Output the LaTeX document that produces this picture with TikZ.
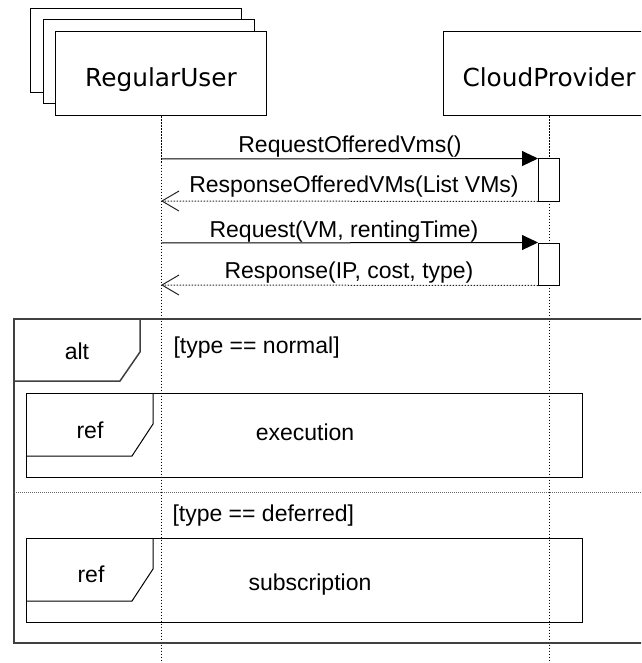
\documentclass[tikz,border=0pt]{standalone}
\usepackage{fontspec}
\setmainfont{Liberation Sans}
\newfontfamily\headfont{DejaVu Sans}
\usetikzlibrary{arrows.meta}

\begin{document}
\begin{tikzpicture}[x=1pt,y=-1pt,line width=1pt,
  lifebox/.style={draw,fill=white,minimum width=211pt,minimum height=84pt,inner sep=0pt},
  headtext/.style={font=\headfont\fontsize{24.8}{28}\selectfont,anchor=base,inner sep=0pt},
  msg/.style={font=\fontsize{23}{27}\selectfont,anchor=base,inner sep=0pt},
  lifeline/.style={dash pattern=on 1.5pt off 1.5pt},
  act/.style={draw,fill=white,minimum width=21pt,minimum height=42pt,inner sep=0pt},
  call/.style={-{Triangle[length=16pt,width=15pt]}},
  reply/.style={black!85,dash pattern=on 1.5pt off 1.5pt,-{Straight Barb[length=17pt,width=20pt]}},
  frame/.style={draw=black!75,line width=1.5pt},
  reffr/.style={draw,minimum width=556pt,minimum height=84pt,inner sep=0pt}]
\clip (0,0) rectangle (641,663);
            % Lifelines
\node[lifebox] (user3) at (136,51) {};
\node[lifebox] (user2) at (148.5,62) {};
\node[lifebox] (userbox) at (161,74) {};
\node[headtext] (user) at (161,87) {RegularUser};
\node[lifebox] (cloudbox) at (549,74) {};
\node[headtext] (cloud) at (549,87) {CloudProvider};
\coordinate (userend) at (161,663);
\coordinate (cloudend) at (549,663);
\draw[lifeline] (userbox.south) -- (userend);
\draw[lifeline] (cloudbox.south) -- (cloudend);
%Activations
\node[act] (act1) at (549,180) {};
\node[act] (act2) at (549,264) {};
%Messages
\coordinate (u1) at (161,159);
\coordinate (u2) at (161,201);
\coordinate (u3) at (161,243);
\coordinate (u4) at (161,285);
\draw[call] (u1) -- (act1.north west);
\draw[reply] (act1.south west) -- (u2);
\draw[call] (u3) -- (act2.north west);
\draw[reply] (act2.south west) -- (u4);
\node[msg] (m1) at (350,153) {RequestOfferedVms()};
\node[msg] (m2) at (354,193) {ResponseOfferedVMs(List VMs)};
\node[msg] (m3) at (344,237) {Request(VM, rentingTime)};
\node[msg] (m4) at (349,278) {Response(IP, cost, type)};
%Alt frame
\node[frame,minimum width=646pt,minimum height=324pt,inner sep=0pt] (altbox) at (337,481) {};
\draw[frame] (140,319) -- (140,352) -- (120,381) -- (14,381);
\node[msg] (alt) at (77,359) {alt};
\node[msg,anchor=base west] (g1) at (173,353) {[type == normal]};
\draw[black!60,dash pattern=on 1pt off 1pt] (14,492) -- (641,492);
\node[msg,anchor=base west] (g2) at (172,521) {[type == deferred]};
%Refs
\node[reffr] (ref1) at (304.5,435) {};
\draw (153,393) -- (153,424) -- (132,456) -- (26.5,456);
\node[msg] (r1) at (90,438) {ref};
\node[msg] (exe) at (305,440) {execution};
\node[reffr] (ref2) at (304.5,580) {};
\draw (153,538) -- (153,569) -- (132,601) -- (26.5,601);
\node[msg] (r2) at (91,582) {ref};
\node[msg] (sub) at (310,590) {subscription};
\end{tikzpicture}
\end{document}
